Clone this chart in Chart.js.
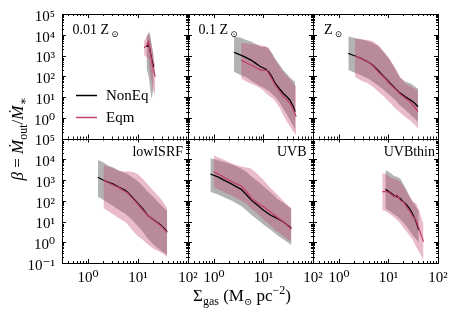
<!DOCTYPE html>
<html><head><meta charset="utf-8">
<script src="https://cdn.jsdelivr.net/npm/chart.js@4.4.1/dist/chart.umd.min.js"></script>
<style>
html,body{margin:0;padding:0;background:#fff;}
#wrap{position:relative;width:457px;height:316px;overflow:hidden;background:#fff;}
#wrap canvas{position:absolute;left:0;top:0;}
</style></head><body><div id="wrap"></div>
<script>
// ---------- DATA ----------
const panelTitles = ['0.01 Z', '0.1 Z', 'Z', 'lowISRF', 'UVB', 'UVBthin'];
const seriesNames = ['NonEq', 'Eqm'];
const xTickValues = [1, 10, 100];
const yTickValues = [0.1, 1, 10, 100, 1000, 10000, 100000];

// Panel 1: 0.01 Zsun
const n1x  = [14.8, 16.5, 17.5, 18.5, 20.5];
const n1y  = [2630, 3160, 1580, 741, 288];
const n1lo = [251, 79, 25, 7.9, 25];
const n1hi = [7940, 14100, 10000, 3980, 1000];
const e1x  = [13.2, 14.5, 16.2, 17.8, 19.5, 22];
const e1y  = [2400, 2820, 4680, 1260, 316, 95];
const e1lo = [1000, 891, 631, 100, 32, 10];
const e1hi = [5010, 7080, 11200, 6310, 1580, 316];

// Panel 2: 0.1 Zsun
const n2x  = [2.55, 3.5, 4.5, 5.6, 7, 8.8, 11, 12.7, 15, 17.2, 21, 25, 30, 34, 40, 43.6];
const n2y  = [1410, 1050, 794, 603, 417, 288, 224, 166, 89, 46, 25, 15.1, 10, 7.2, 3.5, 1.95];
const n2lo = [166, 112, 89, 63, 45, 32, 25, 20, 14, 10, 5.6, 2.8, 1.4, 0.79, 0.4, 0.25];
const n2hi = [8130, 7080, 5620, 4680, 3550, 2630, 2630, 2240, 1260, 724, 355, 200, 126, 89, 63, 55];
const e2x  = [3.55, 4.5, 5.6, 7, 8.8, 10.5, 11.8, 13, 15, 17.2, 21, 25, 30, 34, 40, 45.7];
const e2y  = [603, 447, 347, 263, 200, 191, 186, 126, 71, 38, 20, 10.5, 7.1, 5.0, 2.5, 1.12];
const e2lo = [79, 56, 45, 35, 26, 18, 14, 11.2, 8.9, 6.3, 3.2, 1.35, 0.63, 0.4, 0.22, 0.15];
const e2hi = [4170, 3800, 3550, 3310, 3160, 2820, 2630, 2000, 1120, 603, 316, 166, 100, 71, 45, 32];

// Panel 3: Zsun
const n3x  = [1.55, 2.0, 2.8, 3.8, 4.8, 6.3, 8.1, 10.5, 13.7, 17, 21.6, 28, 34, 39.4];
const n3y  = [1260, 1000, 724, 501, 347, 178, 95, 50, 26, 15.8, 10.5, 7.1, 5.0, 3.4];
const n3lo = [200, 158, 112, 79, 56, 35, 22, 12.6, 7.1, 4.0, 2.5, 1.4, 0.89, 0.63];
const n3hi = [8130, 7080, 6030, 5010, 3980, 2820, 1410, 631, 224, 89, 56, 45, 32, 25];
const e3x  = [2.1, 2.8, 3.8, 4.8, 6.3, 8.1, 10.5, 13.7, 17.2, 21.6, 28, 34, 39.4];
const e3y  = [955, 724, 501, 331, 158, 89, 45, 24, 14.1, 8.9, 5.6, 3.2, 1.95];
const e3lo = [95, 63, 46, 32, 18, 10.5, 5.6, 2.8, 1.78, 1.12, 0.71, 0.45, 0.31];
const e3hi = [6310, 6030, 5620, 5010, 3160, 1580, 708, 251, 89, 45, 32, 25, 20];

// Panel 4: lowISRF
const n4x  = [1.57, 2.0, 2.5, 3.2, 4.2, 5.4, 6.0, 7.5, 9.8, 12.5, 15.5, 20, 28.6, 38.3];
const n4y  = [1350, 1000, 794, 631, 447, 331, 275, 158, 76, 40, 20, 12.6, 6.8, 3.2];
const n4lo = [158, 112, 79, 56, 35, 25, 20, 12.6, 6.3, 3.2, 1.58, 0.79, 0.4, 0.25];
const n4hi = [9120, 7080, 5010, 3980, 2820, 2240, 2000, 1410, 891, 501, 282, 158, 63, 32];
const e4x  = [2.03, 2.5, 3.2, 4.2, 5.4, 6.0, 7.5, 9.8, 12.5, 15.5, 20, 28.6, 38.3];
const e4y  = [955, 759, 575, 417, 288, 251, 141, 71, 35, 20, 12, 6.3, 3.0];
const e4lo = [44, 32, 22, 14.1, 9.8, 7.9, 4.0, 2.0, 1.29, 0.79, 0.5, 0.32, 0.2];
const e4hi = [5250, 4470, 3550, 2820, 2510, 2630, 2510, 2000, 1120, 631, 316, 126, 44];

// Panel 5: UVB
const n5x  = [0.85, 1.2, 1.67, 2.3, 3.55, 4.5, 5.6, 7.5, 10, 14, 19, 25, 36.6];
const n5y  = [1950, 1410, 933, 631, 355, 200, 110, 63, 35, 20, 14.1, 9.8, 4.7];
const n5lo = [275, 200, 141, 100, 56, 35, 22, 12.6, 7.1, 4.0, 2.2, 1.41, 0.74];
const n5hi = [11200, 8910, 7080, 5620, 3550, 2510, 1580, 891, 501, 251, 126, 79, 40];
const e5x  = [0.99, 1.2, 1.67, 2.3, 3.55, 4.5, 5.6, 7.5, 10, 14, 19, 25, 36.6];
const e5y  = [2510, 2000, 1260, 832, 513, 282, 141, 79, 51, 28, 15.8, 10, 4.2];
const e5lo = [479, 355, 251, 178, 100, 71, 44, 25, 12.6, 6.3, 3.2, 2.0, 1.07];
const e5hi = [15800, 12600, 8910, 6310, 4470, 3980, 3630, 2000, 1000, 398, 200, 100, 44];

// Panel 6: UVBthin
const n6x  = [8.7, 10, 11.5, 13, 15, 17.5, 20, 23.4, 27, 31, 36, 40.9];
const n6y  = [355, 282, 224, 178, 158, 126, 89, 63, 40, 22, 10, 3.9];
const n6lo = [44, 35, 28, 22, 18, 12.6, 8.9, 5.6, 3.5, 2.2, 1.41, 1.0];
const n6hi = [3020, 2510, 2000, 1580, 1450, 1120, 631, 331, 158, 89, 51, 32];
const e6x  = [7.5, 8.7, 10, 11.5, 13, 15, 17.5, 20, 23.4, 27, 31, 36, 42, 51];
const e6y  = [275, 275, 263, 200, 158, 191, 100, 89, 51, 32, 18, 11.7, 4.0, 1.07];
const e6lo = [35, 32, 25, 20, 15.8, 11.7, 7.9, 5.0, 3.2, 2.0, 1.29, 0.63, 0.32, 0.14];
const e6hi = [2090, 2000, 1580, 1260, 1120, 1000, 794, 501, 251, 158, 89, 76, 32, 6.8];

// ---------- STYLE / LAYOUT ----------
const SERIF = "'Liberation Serif','DejaVu Serif',serif";
const GREY_FILL = 'rgba(128,128,128,0.6)';
const PINK_FILL = 'rgba(195,60,105,0.35)';
const PINK_LINE = '#c0406b';
const XMIN = 0.34, XMAX = 100, YMIN = 0.1, YMAX = 1e5;
const W = 457, H = 316;
const colEdges = [62, 188, 313, 438];
const rowEdges = [14, 138.5, 263];
const titleXY = [[72.5, 34], [198.5, 34], [324, 34], [183, 156], [306.5, 156], [435, 156]];

const panelData = [
  [n1x, n1y, n1lo, n1hi, e1x, e1y, e1lo, e1hi],
  [n2x, n2y, n2lo, n2hi, e2x, e2y, e2lo, e2hi],
  [n3x, n3y, n3lo, n3hi, e3x, e3y, e3lo, e3hi],
  [n4x, n4y, n4lo, n4hi, e4x, e4y, e4lo, e4hi],
  [n5x, n5y, n5lo, n5hi, e5x, e5y, e5lo, e5hi],
  [n6x, n6y, n6lo, n6hi, e6x, e6y, e6lo, e6hi]
];

const SUP = {'-':'\u207B','0':'\u2070','1':'\u00B9','2':'\u00B2','3':'\u00B3','4':'\u2074','5':'\u2075'};
function powLabel(v) {
  const e = Math.round(Math.log10(v));
  return '10' + String(e).split('').map(c => SUP[c]).join('');
}
const pts = (xs, ys) => xs.map((x, i) => ({x: x, y: ys[i]}));

function rich(ctx, parts, x, y, align) {
  let w = 0;
  parts.forEach(p => {
    ctx.font = (p.it ? 'italic ' : '') + p.s + 'px ' + SERIF;
    p.w = ctx.measureText(p.t).width; w += p.w;
  });
  let cx = align === 'right' ? x - w : align === 'center' ? x - w / 2 : x;
  parts.forEach(p => {
    ctx.font = (p.it ? 'italic ' : '') + p.s + 'px ' + SERIF;
    ctx.fillText(p.t, cx, y + (p.dy || 0));
    cx += p.w;
  });
}

const framePlugin = {
  id: 'frame',
  afterDatasetsDraw(chart) {
    const ctx = chart.ctx, a = chart.chartArea, sx = chart.scales.x, sy = chart.scales.y;
    ctx.save();
    ctx.strokeStyle = '#000'; ctx.lineWidth = 1;
    ctx.beginPath();
    for (let e = -2; e <= 5; e++) for (let m = 1; m <= 9; m++) {
      const v = m * Math.pow(10, e), L = m === 1 ? 4 : 2;
      if (v >= XMIN && v <= XMAX) {
        const px = Math.round(sx.getPixelForValue(v)) + 0.5;
        ctx.moveTo(px, a.bottom); ctx.lineTo(px, a.bottom - L);
        ctx.moveTo(px, a.top); ctx.lineTo(px, a.top + L);
      }
      if (v >= YMIN && v <= YMAX) {
        const py = Math.round(sy.getPixelForValue(v)) + 0.5;
        ctx.moveTo(a.left, py); ctx.lineTo(a.left + L, py);
        ctx.moveTo(a.right, py); ctx.lineTo(a.right - L, py);
      }
    }
    ctx.stroke();
    const l = Math.round(a.left) + 0.5, t = Math.round(a.top) + 0.5;
    const r = Math.round(a.right) + 0.5, b = Math.round(a.bottom) + 0.5;
    ctx.strokeRect(l, t, r - l, b - t);
    ctx.restore();
  },
  afterDraw(chart) {
    const ctx = chart.ctx, idx = chart.options.plugins.frame.idx;
    ctx.save();
    ctx.fillStyle = '#000'; ctx.textBaseline = 'alphabetic';
    const [tx, ty] = titleXY[idx];
    if (idx < 3) {
      rich(ctx, [{t: panelTitles[idx], s: 14}, {t: ' \u2299', s: 9, dy: 3}], tx, ty, 'left');
    } else {
      rich(ctx, [{t: panelTitles[idx], s: 14}], tx, ty, 'right');
    }
    if (idx === 0) {
      // legend
      const rows = [[seriesNames[0], '#000', 95], [seriesNames[1], PINK_LINE, 117]];
      rows.forEach(([name, col, y]) => {
        ctx.strokeStyle = col; ctx.lineWidth = 1.5;
        ctx.beginPath(); ctx.moveTo(76, y + 0.5); ctx.lineTo(97, y + 0.5); ctx.stroke();
        ctx.textBaseline = 'middle'; ctx.font = '15px ' + SERIF;
        ctx.fillText(name, 106, y + 1);
      });
      ctx.textBaseline = 'alphabetic';
      // x axis title
      rich(ctx, [{t: '\u03A3', s: 17}, {t: 'gas', s: 12, dy: 4}, {t: ' (M', s: 17},
                 {t: '\u2299', s: 10, dy: 4}, {t: ' pc', s: 17}, {t: '\u22122', s: 12, dy: -7},
                 {t: ')', s: 17}], 242, 301, 'center');
      // y axis title
      ctx.translate(23, 139);
      ctx.rotate(-Math.PI / 2);
      rich(ctx, [{t: '\u03B2', s: 17, it: true}, {t: ' = ', s: 17}, {t: '\u1E40', s: 17, it: true},
                 {t: 'out', s: 12, dy: 4}, {t: '/', s: 17}, {t: '\u1E40', s: 17, it: true},
                 {t: '\u2217', s: 12, dy: 4}], 0, 0, 'center');
    }
    ctx.restore();
  }
};

const wrap = document.getElementById('wrap');
panelData.forEach((d, idx) => {
  const col = idx % 3, row = Math.floor(idx / 3);
  const L = colEdges[col], R = colEdges[col + 1], T = rowEdges[row], B = rowEdges[row + 1];
  const yW = col === 0 ? L : 0;          // y-scale box width (labels live inside it)
  const xH = row === 1 ? H - B : 0;      // x-scale box height
  const cv = document.createElement('canvas');
  cv.width = W; cv.height = H;
  cv.style.width = W + 'px'; cv.style.height = H + 'px';
  wrap.appendChild(cv);
  const [nx, ny, nlo, nhi, ex, ey, elo, ehi] = d;
  const band = {pointRadius: 0, borderWidth: 0, borderColor: 'rgba(0,0,0,0)', tension: 0};
  new Chart(cv.getContext('2d'), {
    type: 'line',
    data: {
      datasets: [
        Object.assign({label: seriesNames[0] + ' lo', data: pts(nx, nlo), fill: false, order: 3}, band),
        Object.assign({label: seriesNames[0] + ' hi', data: pts(nx, nhi), fill: {target: 0}, backgroundColor: GREY_FILL, order: 3}, band),
        Object.assign({label: seriesNames[1] + ' lo', data: pts(ex, elo), fill: false, order: 2}, band),
        Object.assign({label: seriesNames[1] + ' hi', data: pts(ex, ehi), fill: {target: 2}, backgroundColor: PINK_FILL, order: 2}, band),
        {label: seriesNames[0], data: pts(nx, ny), borderColor: '#000', borderWidth: 1.3, pointRadius: 0, fill: false, order: 1},
        {label: seriesNames[1], data: pts(ex, ey), borderColor: PINK_LINE, borderWidth: 1.3, pointRadius: 0, fill: false, order: 0}
      ]
    },
    options: {
      responsive: false, animation: false, devicePixelRatio: 1,
      layout: {padding: {left: L - yW, right: W - R, top: T, bottom: H - B - xH}},
      plugins: {legend: {display: false}, tooltip: {enabled: false}, frame: {idx: idx}},
      scales: {
        x: {
          type: 'logarithmic', position: 'bottom', min: XMIN, max: XMAX,
          grid: {display: false, drawTicks: false}, border: {display: false},
          ticks: {display: row === 1, autoSkip: false, maxRotation: 0, minRotation: 0, padding: 6, color: '#000',
                  font: {family: SERIF, size: 15}, callback: v => powLabel(v)},
          afterBuildTicks: s => { s.ticks = xTickValues.map(v => ({value: v})); },
          afterFit: s => { s.height = xH; s.paddingLeft = 0; s.paddingRight = 0; }
        },
        y: {
          type: 'logarithmic', position: 'left', min: YMIN, max: YMAX,
          grid: {display: false, drawTicks: false}, border: {display: false},
          ticks: {display: col === 0, autoSkip: false, padding: 7, labelOffset: 3, color: '#000',
                  font: {family: SERIF, size: 15}, callback: v => powLabel(v)},
          afterBuildTicks: s => { s.ticks = yTickValues.filter(v => row === 1 || v >= 1).map(v => ({value: v})); },
          afterFit: s => { s.width = yW; s.paddingTop = 0; s.paddingBottom = 0; }
        }
      }
    },
    plugins: [framePlugin]
  });
});
</script>
</body></html>
